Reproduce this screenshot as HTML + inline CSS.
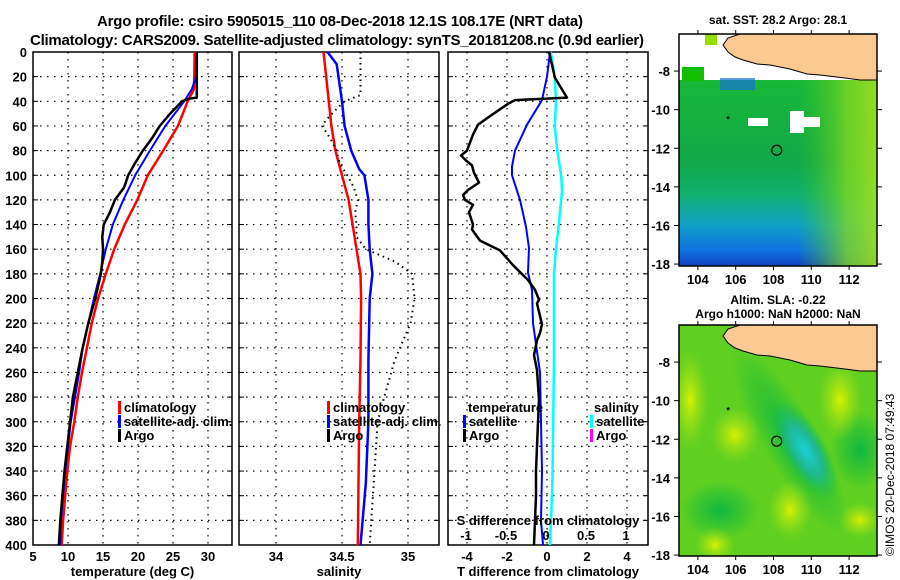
<!DOCTYPE html>
<html><head><meta charset="utf-8">
<style>
html,body{margin:0;padding:0;background:#fff;}
svg{display:block;font-family:"Liberation Sans",sans-serif;font-weight:bold;}
</style></head>
<body>
<svg id="fig" width="900" height="580" viewBox="0 0 900 580">
<text x="340" y="26" text-anchor="middle" font-size="15" textLength="486">Argo profile: csiro 5905015_110 08-Dec-2018 12.1S 108.17E (NRT data)</text>
<text x="337" y="45" text-anchor="middle" font-size="15" textLength="614">Climatology: CARS2009. Satellite-adjusted climatology: synTS_20181208.nc (0.9d earlier)</text>
<g id="panels"></g>
<g id="maps"></g>
</svg>
<script>
// ---------- data ----------
const depthTicks = [0,20,40,60,80,100,120,140,160,180,200,220,240,260,280,300,320,340,360,380,400];
const tempTicks = [5,10,15,20,25,30];
const salTicks = [34,34.5,35];
const tdiffTicks = [-4,-2,0,2,4];
const sdiffTicks = [-1,-0.5,0,0.5,1];

const argoTDepth = [0,37,38,40,50,60,70,80,90,100,110,120,130,140,150,160,170,180,190,200,220,240,260,280,300,320,340,360,380,400];
const argoT = [28.4,28.4,27.2,26.3,24.6,23.1,22.0,20.7,19.6,18.6,18.0,16.7,16.0,15.1,14.9,15.0,14.9,14.7,14.3,13.9,12.9,12.1,11.4,10.7,10.3,9.9,9.5,9.2,8.9,8.7];
const satTDepth = [0,20,30,40,60,80,100,120,140,160,180,200,220,240,260,280,300,320,340,360,380,400];
const satT = [28.4,28.3,27.7,26.6,23.9,21.7,19.6,17.9,16.4,15.4,14.6,13.7,12.9,12.1,11.6,11.0,10.4,10.0,9.6,9.3,9.0,8.9];
const climTDepth = [0,30,40,60,80,100,120,140,160,180,200,220,240,260,280,300,320,340,360,380,400];
const climT = [28.1,28.0,27.1,25.7,23.6,21.4,19.9,18.1,16.6,15.4,14.3,13.4,12.7,12.0,11.4,10.9,10.3,9.9,9.6,9.3,9.1];

const climSDepth = [0,20,40,60,80,100,120,140,160,180,200,250,300,350,400];
const climS = [34.36,34.38,34.40,34.42,34.45,34.50,34.55,34.58,34.61,34.64,34.645,34.64,34.63,34.625,34.62];
const satSDepth = [0,10,40,60,80,95,100,120,140,160,180,200,250,300,350,400];
const satS = [34.39,34.46,34.50,34.52,34.57,34.63,34.67,34.70,34.70,34.71,34.73,34.71,34.70,34.70,34.68,34.64];
const argoSDepth = [0,35,40,45,55,60,70,80,90,100,110,120,130,140,150,160,170,180,200,220,250,280,300,350,400];
const argoS = [34.64,34.64,34.52,34.47,34.38,34.35,34.41,34.46,34.48,34.54,34.59,34.62,34.60,34.61,34.61,34.68,34.90,35.03,35.05,35.02,34.90,34.82,34.77,34.74,34.71];

const tdArgoDepth = [0,21,37,39,42,52,59,67,80,84,88,92,98,106,112,116,120,124,130,140,144,153,161,173,185,193,201,204,221,228,234,246,258,270,282,300,320,340,360,380,400];
const tdArgo = [0.1,0.4,1.0,-1.6,-1.95,-2.85,-3.45,-3.7,-4.0,-4.3,-4.05,-3.75,-3.65,-3.4,-3.95,-4.2,-4.1,-3.7,-3.9,-3.7,-3.75,-3.35,-2.35,-1.7,-0.95,-0.6,-0.4,-0.5,-0.25,-0.35,-0.5,-0.65,-0.5,-0.45,-0.4,-0.45,-0.5,-0.55,-0.55,-0.6,-0.65];
const tdSatDepth = [0,20,39,59,80,93,100,120,142,159,179,193,220,260,300,340,380,400];
const tdSat = [0.15,0.0,-0.25,-1.0,-1.6,-1.75,-1.75,-1.35,-1.05,-0.9,-0.95,-0.75,-0.7,-0.35,-0.3,-0.25,-0.3,-0.2];
const sdSatDepth = [0,21,40,60,80,100,113,140,160,180,200,250,300,350,400];
const sdSat = [0.06,0.11,0.125,0.11,0.14,0.19,0.2,0.16,0.125,0.1,0.1,0.1,0.09,0.08,0.05];

// ---------- helpers ----------
const NS="http://www.w3.org/2000/svg";
function mk(tag,attrs,parent){const e=document.createElementNS(NS,tag);for(const k in attrs)e.setAttribute(k,attrs[k]);parent.appendChild(e);return e;}
const panels=document.getElementById('panels');
const top0=52, bot0=545;
const yD = d => top0 + d*(bot0-top0)/400;

function axes(x0,x1,ticks,xf,labelFmt,title,name,showDepth){
  const g=mk('g',{},panels);
  
  
  ticks.forEach(t=>{const x=xf(t);if(x>x0+1&&x<x1-1)mk('line',{x1:x,y1:top0,x2:x,y2:bot0,stroke:'#000','stroke-width':1.2,'stroke-dasharray':'1.5 5.5'},g);});
  depthTicks.forEach(d=>{const y=yD(d);if(d>0&&d<400)mk('line',{x1:x0,y1:y,x2:x1,y2:y,stroke:'#000','stroke-width':1.2,'stroke-dasharray':'1.5 5.5'},g);
    mk('line',{x1:x0,y1:y,x2:x0+5,y2:y,stroke:'#000'},g);mk('line',{x1:x1-5,y1:y,x2:x1,y2:y,stroke:'#000'},g);
    if(showDepth){const t=mk('text',{x:x0-6,y:y+5,'text-anchor':'end','font-size':13},g);t.textContent=d;}
  });
  ticks.forEach(t=>{const x=xf(t);const tx=mk('text',{x:x,y:561,'text-anchor':'middle','font-size':13},g);tx.textContent=labelFmt(t);});
  const tt=mk('text',{x:(x0+x1)/2,y:576,'text-anchor':'middle','font-size':13},g);tt.textContent=title;
  mk('rect',{x:x0,y:top0,width:x1-x0,height:bot0-top0,fill:'none',stroke:'#000','stroke-width':1.5},g);
  return g;
}
function series(g,depths,vals,xf,color,w,name,dash){
  const pts=depths.map((d,i)=>xf(vals[i]).toFixed(1)+','+yD(d).toFixed(1)).join(' ');
  const p=mk('polyline',{points:pts,fill:'none',stroke:color,'stroke-width':w,'stroke-linejoin':'round'},g);
  if(dash)p.setAttribute('stroke-dasharray',dash);
  
  
}
function legendEntry(g,x,y,color,label,name){
  const lg=mk('g',{},g);
  
  
  mk('rect',{x:x,y:y-11,width:3,height:13,fill:color},lg);
  const t=mk('text',{x:x+6,y:y,'font-size':13},lg);t.textContent=label;
}

const xT = t => 33 + (t-5)*7.0;
const g1=axes(33,232,tempTicks,xT,t=>t,'temperature (deg C)','temperature-panel',true);
series(g1,climTDepth,climT,xT,'#f00',2.5,'temp-climatology-line');
series(g1,satTDepth,satT,xT,'#00f',2,'temp-satellite-adj-line');
series(g1,argoTDepth,argoT,xT,'#000',2.5,'temp-argo-line');
legendEntry(g1,118,412,'#f00','climatology','legend-climatology');
legendEntry(g1,118,426,'#00f','satellite-adj. clim.','legend-satellite-adj');
legendEntry(g1,118,440,'#000','Argo','legend-argo');

const xS = s => 276 + (s-34)*132;
const g2=axes(239,439,salTicks,xS,t=>t,'salinity','salinity-panel',false);
series(g2,climSDepth,climS,xS,'#f00',2.5,'sal-climatology-line');
series(g2,satSDepth,satS,xS,'#00f',2.5,'sal-satellite-adj-line');
series(g2,argoSDepth,argoS,xS,'#000',2,'sal-argo-line','1.5 4');
legendEntry(g2,327,412,'#f00','climatology','legend-sal-climatology');
legendEntry(g2,327,426,'#00f','satellite-adj. clim.','legend-sal-satellite-adj');
legendEntry(g2,327,440,'#000','Argo','legend-sal-argo');

const xTD = t => 547 + t*20;
const xSD = s => 546 + s*80;
const g3=axes(448,648,tdiffTicks,xTD,t=>t,'T difference from climatology','difference-panel',false);
series(g3,sdSatDepth,sdSat,xSD,'#0ff',2.5,'sdiff-satellite-line');
series(g3,tdSatDepth,tdSat,xTD,'#00f',2,'tdiff-satellite-line');
series(g3,tdArgoDepth,tdArgo,xTD,'#000',2.5,'tdiff-argo-line');
{const t=mk('text',{x:468,y:412,'font-size':13},g3);t.textContent='temperature';}
{const t=mk('text',{x:594,y:412,'font-size':13},g3);t.textContent='salinity';}
legendEntry(g3,463,426,'#00f','satellite','legend-t-satellite');
legendEntry(g3,463,440,'#000','Argo','legend-t-argo');
legendEntry(g3,590,426,'#0ff','satellite','legend-s-satellite');
legendEntry(g3,590,440,'#f0f','Argo','legend-s-argo');
{const t=mk('text',{x:548,y:525,'text-anchor':'middle','font-size':13},g3);t.textContent='S difference from climatology';}
sdiffTicks.forEach(s=>{const t=mk('text',{x:xSD(s),y:540,'text-anchor':'middle','font-size':13},g3);t.textContent=s;});

// ---------- maps ----------
const maps=document.getElementById('maps');
const lonX = l => 679 + (l-103)*18.9;
const latLabels=[-8,-10,-12,-14,-16,-18];
const lonLabels=[104,106,108,110,112];
function landPoly(off){
  const p=[[723,45],[728,38],[740,34],[877,34],[877,80],[860,80],[845,78],[820,75],[807,74],[790,69],[770,65],[757,64],[743,60],[735,57],[728,52]];
  return p.map(q=>q[0]+','+(q[1]+off)).join(' ');
}
const defs=mk('defs',{},maps);
defs.innerHTML=`
<clipPath id="clipTop"><rect x="679" y="34" width="198" height="232"/></clipPath>
<clipPath id="clipBot"><rect x="679" y="325" width="198" height="231"/></clipPath>
<linearGradient id="sstV" x1="0" y1="0" x2="0" y2="1">
 <stop offset="0" stop-color="#18b838"/><stop offset="0.45" stop-color="#10a84a"/>
 <stop offset="0.62" stop-color="#10b070"/><stop offset="0.78" stop-color="#10a0c8"/>
 <stop offset="0.92" stop-color="#1070e0"/><stop offset="1" stop-color="#1040c0"/></linearGradient>
<linearGradient id="sstH" x1="0" y1="0" x2="1" y2="0">
 <stop offset="0" stop-color="#00c000" stop-opacity="0"/><stop offset="0.6" stop-color="#40c820" stop-opacity="0"/>
 <stop offset="0.85" stop-color="#80d820" stop-opacity="0.8"/><stop offset="1" stop-color="#a0e020" stop-opacity="0.9"/></linearGradient>
<radialGradient id="slaBlob" cx="0.5" cy="0.5" r="0.5">
 <stop offset="0" stop-color="#18d0d8"/><stop offset="0.5" stop-color="#20b890"/><stop offset="1" stop-color="#10c050" stop-opacity="0"/></radialGradient>
<radialGradient id="yel" cx="0.5" cy="0.5" r="0.5">
 <stop offset="0" stop-color="#d8f000"/><stop offset="1" stop-color="#a0e020" stop-opacity="0"/></radialGradient>
<radialGradient id="grn" cx="0.5" cy="0.5" r="0.5">
 <stop offset="0" stop-color="#10b840"/><stop offset="1" stop-color="#10b840" stop-opacity="0"/></radialGradient>`;
function mapFrame(top,bot,title1,title2,name,clip,fillFn){
  const g=mk('g',{},maps);
  
  
  const latY = la => top + (-6.08-la)*19.3;
  const inner=mk('g',{'clip-path':'url(#'+clip+')'},g);
  fillFn(inner,top,bot);
  mk('polygon',{points:landPoly(top-34),fill:'#fbc992',stroke:'#000','stroke-width':1},inner);
  mk('circle',{cx:lonX(108.17),cy:latY(-12.1),r:5,fill:'none',stroke:'#000','stroke-width':1.2},g);
  mk('text',{x:lonX(105.6),y:latY(-10.5)+3,'font-size':9,'text-anchor':'middle'},g).textContent='*';
  mk('rect',{x:679,y:top,width:198,height:bot-top,fill:'none',stroke:'#000','stroke-width':1.5},g);
  latLabels.forEach(la=>{const y=latY(la);mk('line',{x1:674,y1:y,x2:679,y2:y,stroke:'#000'},g);mk('line',{x1:877,y1:y,x2:882,y2:y,stroke:'#000'},g);
    const t=mk('text',{x:670,y:y+5,'text-anchor':'end','font-size':13},g);t.textContent=la;});
  lonLabels.forEach(lo=>{const x=lonX(lo);mk('line',{x1:x,y1:bot,x2:x,y2:bot+4,stroke:'#000'},g);mk('line',{x1:x,y1:top-4,x2:x,y2:top,stroke:'#000'},g);
    const t=mk('text',{x:x,y:bot+18,'text-anchor':'middle','font-size':13},g);t.textContent=lo;});
  const a=mk('text',{x:778,y:title2?top-21:top-10,'text-anchor':'middle','font-size':12},g);a.textContent=title1;
  if(title2){const b=mk('text',{x:778,y:top-7,'text-anchor':'middle','font-size':12},g);b.textContent=title2;}
}
mapFrame(34,266,'sat. SST: 28.2 Argo: 28.1',null,'sst-map','clipTop',(g,top,bot)=>{
  mk('rect',{x:679,y:80,width:198,height:bot-80,fill:'url(#sstV)'},g);
  mk('rect',{x:679,y:80,width:198,height:bot-80,fill:'url(#sstH)'},g);
  mk('rect',{x:720,y:78,width:35,height:12,fill:'#1a70d8',opacity:0.7},g);
  mk('rect',{x:682,y:67,width:22,height:14,fill:'#10c000'},g);
  mk('rect',{x:705,y:34,width:12,height:11,fill:'#90e000'},g);
  mk('rect',{x:853,y:34,width:24,height:12,fill:'#c0e000'},g);
  mk('rect',{x:790,y:111,width:14,height:22,fill:'#fff'},g);
  mk('rect',{x:804,y:117,width:16,height:10,fill:'#fff'},g);
  mk('rect',{x:748,y:118,width:20,height:8,fill:'#fff'},g);
});
mapFrame(325,556,'Altim. SLA: -0.22','Argo h1000: NaN h2000: NaN','sla-map','clipBot',(g,top,bot)=>{
  mk('rect',{x:679,y:top,width:198,height:bot-top,fill:'#60d020'},g);
  mk('ellipse',{cx:790,cy:440,rx:28,ry:110,fill:'url(#grn)',transform:'rotate(-30 790 440)'},g);
  mk('ellipse',{cx:720,cy:510,rx:40,ry:30,fill:'url(#grn)'},g);
  mk('ellipse',{cx:860,cy:450,rx:30,ry:40,fill:'url(#grn)'},g);
  mk('ellipse',{cx:805,cy:450,rx:22,ry:55,fill:'url(#slaBlob)',transform:'rotate(-30 805 450)'},g);
  mk('ellipse',{cx:840,cy:400,rx:22,ry:40,fill:'url(#yel)'},g);
  mk('ellipse',{cx:735,cy:435,rx:25,ry:28,fill:'url(#yel)'},g);
  mk('ellipse',{cx:690,cy:400,rx:18,ry:50,fill:'url(#yel)'},g);
  mk('ellipse',{cx:790,cy:510,rx:22,ry:30,fill:'url(#yel)'},g);
  mk('ellipse',{cx:860,cy:520,rx:22,ry:18,fill:'url(#yel)'},g);
  mk('ellipse',{cx:715,cy:545,rx:20,ry:18,fill:'url(#yel)'},g);
});
{const t=mk('text',{x:0,y:0,'font-size':12,'font-weight':'normal',transform:'translate(894 556) rotate(-90)'},maps);t.textContent='©IMOS 20-Dec-2018 07:49:43';}
</script>
</body></html>
